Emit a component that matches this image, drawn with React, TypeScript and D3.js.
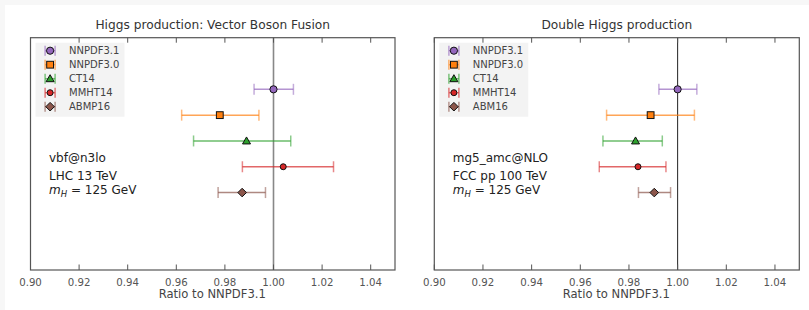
import React from "react";
import * as d3 from "d3";

const W = 809;
const H = 310;

const pdfsVBF = ["NNPDF3.1", "NNPDF3.0", "CT14", "MMHT14", "ABMP16"];
const pdfsHH = ["NNPDF3.1", "NNPDF3.0", "CT14", "MMHT14", "ABM16"];
const colors = ["#9467bd", "#ff7f0e", "#2ca02c", "#d62728", "#8c564b"];
const markers = ["circle", "square", "triangle", "smallcircle", "diamond"];

const vbfCentral = [1.0, 0.9779, 0.9889, 1.004, 0.9871];
const vbfLow = [0.992, 0.9622, 0.9671, 0.9872, 0.9772];
const vbfHigh = [1.0082, 0.994, 1.0071, 1.0247, 0.9967];

const hhCentral = [1.0, 0.9889, 0.9827, 0.9837, 0.9904];
const hhLow = [0.9923, 0.9708, 0.9693, 0.9678, 0.9839];
const hhHigh = [1.0079, 1.0069, 0.9937, 0.9952, 0.9971];

const xTicks = [0.9, 0.92, 0.94, 0.96, 0.98, 1.0, 1.02, 1.04];

const FONT = "DejaVu Sans, sans-serif";

function Marker({ type, x, y, color }: { type: string; x: number; y: number; color: string }) {
  const stroke = "#111";
  const sw = 1;
  if (type === "circle") return <circle cx={x} cy={y} r={3.6} fill={color} stroke={stroke} strokeWidth={sw} />;
  if (type === "smallcircle") return <circle cx={x} cy={y} r={3} fill={color} stroke={stroke} strokeWidth={sw} />;
  if (type === "square") return <rect x={x - 3.4} y={y - 3.4} width={6.8} height={6.8} fill={color} stroke={stroke} strokeWidth={sw} />;
  if (type === "triangle") {
    const s = 4;
    return <path d={`M${x},${y - s} L${x + s},${y + s * 0.75} L${x - s},${y + s * 0.75} Z`} fill={color} stroke={stroke} strokeWidth={sw} />;
  }
  const s = 4.3;
  return <path d={`M${x},${y - s} L${x + s},${y} L${x},${y + s} L${x - s},${y} Z`} fill={color} stroke={stroke} strokeWidth={sw} />;
}

function Panel({
  left, right, title, names, central, low, high, notes, refColor, refWidth,
}: {
  left: number; right: number; title: string; names: string[]; central: number[]; low: number[]; high: number[];
  notes: string[]; refColor: string; refWidth: number;
}) {
  const top = 37.7;
  const bottom = 270;
  const x = d3.scaleLinear().domain([0.9, 1.05]).range([left, right]);
  const y = d3.scaleLinear().domain([-2, 7]).range([top, bottom]);
  const frame = "#555";
  const cap = 5.5;
  return (
    <g>
      <text x={(left + right) / 2} y={29} textAnchor="middle" fontFamily={FONT} fontSize={12.2} fill="#333">{title}</text>
      {/* legend */}
      <rect x={left + 5} y={42.7} width={89} height={74} fill="#f3f3f3" />
      {names.map((n, i) => {
        const cy = 50.7 + i * 14;
        const cx = left + 19.6;
        return (
          <g key={n}>
            <line x1={cx - 5} x2={cx + 5} y1={cy} y2={cy} stroke={colors[i]} strokeOpacity={0.6} strokeWidth={1.5} />
            <line x1={cx - 5} x2={cx - 5} y1={cy - 5} y2={cy + 5} stroke={colors[i]} strokeOpacity={0.6} strokeWidth={1.5} />
            <line x1={cx + 5} x2={cx + 5} y1={cy - 5} y2={cy + 5} stroke={colors[i]} strokeOpacity={0.6} strokeWidth={1.5} />
            <Marker type={markers[i]} x={cx} y={cy} color={colors[i]} />
            <text x={left + 38.5} y={cy + 3.6} fontFamily={FONT} fontSize={10} fill="#444">{n}</text>
          </g>
        );
      })}
      {/* reference line */}
      <line x1={x(1)} x2={x(1)} y1={top} y2={bottom} stroke={refColor} strokeWidth={refWidth} />
      {/* error bars */}
      {names.map((n, i) => {
        const cy = y(i);
        return (
          <g key={"e" + n}>
            <line x1={x(low[i])} x2={x(high[i])} y1={cy} y2={cy} stroke={colors[i]} strokeOpacity={0.7} strokeWidth={1.5} />
            <line x1={x(low[i])} x2={x(low[i])} y1={cy - cap} y2={cy + cap} stroke={colors[i]} strokeOpacity={0.55} strokeWidth={1.5} />
            <line x1={x(high[i])} x2={x(high[i])} y1={cy - cap} y2={cy + cap} stroke={colors[i]} strokeOpacity={0.55} strokeWidth={1.5} />
            <Marker type={markers[i]} x={x(central[i])} y={cy} color={colors[i]} />
          </g>
        );
      })}
      {/* notes */}
      <text x={left + 18.5} y={162} fontFamily={FONT} fontSize={12} fill="#222">{notes[0]}</text>
      <text x={left + 18.5} y={179.5} fontFamily={FONT} fontSize={12} fill="#222">{notes[1]}</text>
      <text x={left + 18.5} y={194} fontFamily={FONT} fontSize={12} fill="#222">
        <tspan fontStyle="italic">m</tspan>
        <tspan fontStyle="italic" fontSize={8.5} dy={2.5}>H</tspan>
        <tspan dy={-2.5}> = 125 GeV</tspan>
      </text>
      {/* frame */}
      <rect x={left} y={top} width={right - left} height={bottom - top} fill="none" stroke={frame} strokeWidth={1.2} />
      {xTicks.map((t) => (
        <g key={t}>
          <line x1={x(t)} x2={x(t)} y1={bottom} y2={bottom - 5.5} stroke={frame} strokeWidth={1} />
          <line x1={x(t)} x2={x(t)} y1={top} y2={top + 5} stroke={frame} strokeWidth={1} />
          <text x={x(t)} y={285.8} textAnchor="middle" fontFamily={FONT} fontSize={10.2} fill="#555">{t.toFixed(2)}</text>
        </g>
      ))}
      <text x={(left + right) / 2 - 0.5} y={298} textAnchor="middle" fontFamily={FONT} fontSize={11.6} fill="#444">Ratio to NNPDF3.1</text>
    </g>
  );
}

export default function App() {
  return (
    <svg width={W} height={H} style={{ display: "block", position: "absolute", left: 0, top: 0 }}>
      <rect x={0} y={0} width={W} height={H} fill="#f7f7f7" />
      <rect x={5} y={5} width={W - 5} height={H - 5} fill="#ffffff" />
      <Panel left={30.5} right={395} title="Higgs production: Vector Boson Fusion" names={pdfsVBF}
        central={vbfCentral} low={vbfLow} high={vbfHigh} notes={["vbf@n3lo", "LHC 13 TeV"]} refColor="#888" refWidth={1.6} />
      <Panel left={434.3} right={799.3} title="Double Higgs production" names={pdfsHH}
        central={hhCentral} low={hhLow} high={hhHigh} notes={["mg5_amc@NLO", "FCC pp 100 TeV"]} refColor="#222" refWidth={1} />
    </svg>
  );
}
